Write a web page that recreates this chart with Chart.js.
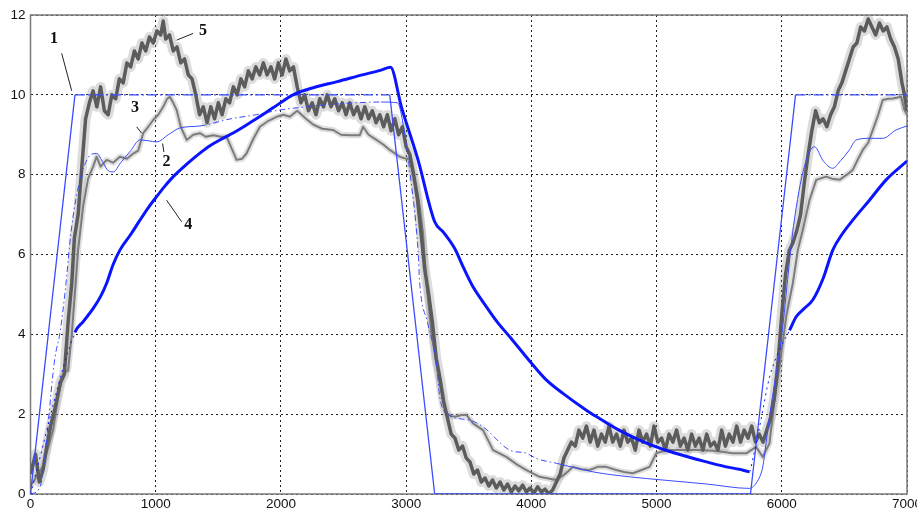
<!DOCTYPE html>
<html>
<head>
<meta charset="utf-8">
<script src="https://cdn.jsdelivr.net/npm/chart.js@4/dist/chart.umd.min.js"></script>
<style>
  html, body { margin: 0; padding: 0; background: #fff; }
  #wrap { width: 917px; height: 510px; }
</style>
</head>
<body>
<div id="wrap"><canvas id="c" width="917" height="510"></canvas></div>
<script>
// Curve 1: reference trapezoid
const c1x = [0, 355, 2869, 3228, 5750, 6110, 7000];
const c1y = [0, 10, 10, 0, 0, 10, 10];

// Curve 2: model response (thin blue)
const c2x = [0, 76, 196, 235, 275, 329, 395, 440, 480, 528,
             580, 620, 661, 720, 800, 874, 940, 1007, 1100, 1193,
             1353, 1600, 1800, 1992, 2200, 2400, 2600, 2800, 2930, 2990,
             3029, 3095, 3108, 3172, 3242, 3268, 3330, 3507, 3611, 3827,
             3960, 4040, 4199, 4500, 4785, 5050, 5400, 5742, 5795, 5835,
             5848, 5900, 6000, 6093, 6180, 6261, 6330, 6407, 6470, 6540,
             6594, 6700, 6806, 6913, 7000];
const c2y = [0, 0.18, 3.43, 4.03, 5.03, 6.70, 7.87, 8.3, 8.5, 8.53,
             8.3, 8.1, 8.07, 8.3, 8.6, 8.87, 8.85, 8.82, 9.0, 9.17,
             9.22, 9.4, 9.5, 9.62, 9.7, 9.76, 9.8, 9.82, 9.8, 9.0,
             8.1, 6.1, 5.3, 4.28, 3.28, 2.44, 2.0, 1.85, 1.69, 1.10,
             1.02, 0.89, 0.77, 0.55, 0.43, 0.35, 0.25, 0.14, 0.27, 0.52,
             0.68, 1.9, 4.0, 6.7, 8.2, 8.70, 8.35, 8.16, 8.35, 8.62,
             8.87, 8.91, 8.91, 9.12, 9.22];

// Curve 3: measured response (light grey)
const c3x = [0, 100, 180, 230, 260, 300, 330, 380, 420, 460,
             500, 528, 560, 608, 660, 714, 770, 820, 860, 900,
             940, 980, 1020, 1060, 1090, 1113, 1140, 1167, 1200, 1247,
             1300, 1353, 1400, 1459, 1520, 1566, 1600, 1646, 1690, 1725,
             1780, 1832, 1900, 1965, 2020, 2071, 2130, 2200, 2260, 2330,
             2415, 2480, 2550, 2630, 2656, 2700, 2763, 2820, 2869, 2949,
             3029, 3082, 3109, 3135, 3162, 3202, 3268, 3322, 3360, 3401,
             3440, 3481, 3534, 3614, 3694, 3800, 3880, 3960, 4066, 4199,
             4270, 4332, 4400, 4465, 4530, 4598, 4678, 4740, 4811, 4880,
             4944, 4998, 5077, 5200, 5343, 5480, 5609, 5716, 5795, 5848,
             5902, 5942, 5982, 6035, 6088, 6128, 6168, 6221, 6275, 6354,
             6400, 6461, 6520, 6567, 6610, 6647, 6690, 6727, 6770, 6806,
             6850, 6886, 6953, 6980, 7000];
const c3y = [0.2, 0.7, 1.6, 2.6, 3.0, 3.1, 4.0, 6.1, 7.2, 7.9,
             8.2, 8.45, 8.2, 8.37, 8.3, 8.45, 8.4, 8.53, 8.6, 9.04,
             9.2, 9.37, 9.5, 9.7, 9.9, 9.95, 9.8, 9.62, 9.2, 8.87,
             9.0, 9.04, 8.95, 8.99, 8.95, 8.95, 8.7, 8.37, 8.4, 8.53,
             8.9, 9.2, 9.35, 9.45, 9.5, 9.45, 9.6, 9.4, 9.25, 9.15,
             9.12, 9.0, 8.99, 8.99, 9.2, 9.0, 8.87, 8.75, 8.62, 8.45,
             8.37, 7.70, 7.20, 6.53, 5.28, 4.02, 2.77, 2.02, 1.95, 1.94,
             1.98, 1.98, 1.77, 1.6, 1.1, 0.93, 0.75, 0.6, 0.43, 0.35,
             0.5, 0.68, 0.62, 0.6, 0.68, 0.68, 0.6, 0.55, 0.52, 0.6,
             0.68, 1.02, 1.1, 1.1, 1.1, 1.08, 1.02, 1.02, 1.18, 0.93,
             1.27, 2.36, 3.19, 4.44, 5.28, 6.11, 6.61, 7.36, 7.87, 7.95,
             7.9, 7.87, 8.0, 8.12, 8.4, 8.62, 8.8, 9.12, 9.5, 9.87,
             9.9, 9.91, 9.95, 9.62, 9.5];

// Curve 4: thick blue estimate
const c4x = [0, 355, 421, 501, 560, 608, 660, 714, 800, 874,
             940, 1007, 1070, 1140, 1250, 1353, 1430, 1512, 1650, 1778,
             1940, 2097, 2270, 2450, 2650, 2800, 2875, 2962, 3095, 3228,
             3300, 3388, 3461, 3534, 3641, 3730, 3827, 4013, 4119, 4252,
             4439, 4519, 4700, 4900, 5100, 5343, 5556, 5662, 5742, 5770,
             5830, 5900, 5980, 6062, 6115, 6180, 6247, 6330, 6407, 6480,
             6567, 6700, 6833, 6993, 7000];
const c4y = [0, 4.05, 4.32, 4.65, 4.95, 5.28, 5.75, 6.11, 6.5, 6.86,
             7.17, 7.45, 7.7, 7.95, 8.27, 8.54, 8.72, 8.87, 9.1, 9.35,
             9.68, 10.0, 10.19, 10.33, 10.5, 10.62, 10.69, 9.70, 8.37, 6.82,
             6.55, 6.15, 5.65, 5.19, 4.69, 4.3, 3.94, 3.23, 2.86, 2.52,
             2.10, 1.94, 1.6, 1.3, 1.07, 0.85, 0.68, 0.62, 0.56, 0.9,
             1.8, 2.9, 3.6, 4.1, 4.44, 4.65, 4.86, 5.4, 6.11, 6.5,
             6.86, 7.36, 7.87, 8.32, 8.34];

// Curve 5: noisy measured signal (dark grey)
const c5x = [0, 40, 70, 100, 130, 160, 200, 240, 270, 300,
             330, 350, 380, 410, 440, 470, 500, 530, 560, 590,
             620, 650, 680, 710, 740, 770, 800, 830, 860, 890,
             920, 950, 980, 1010, 1040, 1060, 1080, 1110, 1140, 1170,
             1200, 1230, 1260, 1290, 1320, 1350, 1380, 1410, 1440, 1470,
             1500, 1530, 1560, 1590, 1620, 1650, 1680, 1710, 1740, 1770,
             1800, 1830, 1860, 1890, 1920, 1950, 1980, 2010, 2040, 2070,
             2100, 2130, 2160, 2190, 2220, 2250, 2280, 2310, 2340, 2370,
             2400, 2430, 2460, 2490, 2520, 2550, 2580, 2610, 2640, 2670,
             2700, 2730, 2760, 2790, 2820, 2850, 2880, 2910, 2940, 2970,
             3000, 3030, 3060, 3090, 3120, 3150, 3180, 3210, 3240, 3270,
             3300, 3330, 3360, 3390, 3420, 3450, 3480, 3510, 3540, 3570,
             3600, 3630, 3660, 3690, 3720, 3750, 3780, 3810, 3840, 3870,
             3900, 3930, 3960, 3990, 4020, 4050, 4080, 4110, 4140, 4170,
             4200, 4230, 4260, 4290, 4320, 4350, 4380, 4410, 4440, 4470,
             4500, 4530, 4560, 4590, 4620, 4650, 4680, 4710, 4740, 4770,
             4800, 4830, 4860, 4890, 4920, 4950, 4980, 5010, 5040, 5070,
             5100, 5130, 5160, 5190, 5220, 5250, 5280, 5310, 5340, 5370,
             5400, 5430, 5460, 5490, 5520, 5550, 5580, 5610, 5640, 5670,
             5700, 5730, 5760, 5790, 5820, 5850, 5880, 5910, 5940, 5970,
             6000, 6030, 6060, 6090, 6120, 6150, 6180, 6210, 6240, 6270,
             6300, 6330, 6360, 6390, 6420, 6450, 6480, 6510, 6540, 6570,
             6600, 6630, 6660, 6690, 6720, 6750, 6780, 6810, 6840, 6870,
             6900, 6930, 6960, 6980, 7000];
const c5y = [0.5, 1.0, 0.3, 0.6, 1.2, 1.7, 2.2, 2.8, 3.0, 4.3,
             5.3, 6.4, 7.0, 8.2, 9.4, 9.8, 10.1, 9.7, 10.2, 9.6,
             9.5, 10.0, 9.9, 10.4, 10.3, 10.8, 10.7, 11.1, 10.9, 11.3,
             11.1, 11.45, 11.3, 11.6, 11.5, 11.85, 11.4, 11.5, 11.1, 11.2,
             10.8, 10.9, 10.5, 10.4, 10.0, 9.5, 9.7, 9.3, 9.7, 9.4,
             9.8, 9.5, 9.9, 9.8, 10.2, 10.0, 10.4, 10.2, 10.6, 10.4,
             10.7, 10.5, 10.8, 10.5, 10.7, 10.4, 10.8, 10.5, 10.9, 10.6,
             10.7, 10.2, 9.8, 10.0, 9.6, 9.8, 9.5, 9.9, 9.7, 10.0,
             9.7, 9.9, 9.6, 9.8, 9.5, 9.8, 9.5, 9.7, 9.4, 9.7,
             9.4, 9.6, 9.3, 9.5, 9.2, 9.5, 9.1, 9.4, 9.0, 9.2,
             8.7, 8.5, 8.0, 7.4, 6.5, 5.6, 5.0, 4.3, 3.4, 2.9,
             2.3, 1.9, 1.5, 1.4, 1.1, 1.2, 0.9, 0.8, 0.5, 0.6,
             0.3, 0.4, 0.2, 0.35, 0.15, 0.3, 0.1, 0.25, 0.05, 0.2,
             0.08, 0.22, 0.05, 0.15, 0.02, 0.18, 0.05, 0.12, 0.0, 0.1,
             0.3, 0.5, 0.9, 1.1, 1.3, 1.2, 1.6, 1.4, 1.7, 1.3,
             1.6, 1.2, 1.5, 1.3, 1.7, 1.3, 1.5, 1.2, 1.6, 1.3,
             1.4, 1.1, 1.6, 1.3, 1.5, 1.2, 1.7, 1.3, 1.4, 1.1,
             1.5, 1.3, 1.6, 1.2, 1.4, 1.1, 1.5, 1.2, 1.4, 1.1,
             1.5, 1.2, 1.3, 1.1, 1.6, 1.2, 1.5, 1.3, 1.7, 1.3,
             1.6, 1.4, 1.7, 1.3, 1.5, 1.3, 1.6, 1.9, 2.4, 3.3,
             4.5, 5.5, 6.1, 6.3, 6.6, 7.0, 7.8, 8.5, 9.1, 9.6,
             9.3, 9.4, 9.2, 9.5, 9.7, 10.1, 10.3, 10.6, 10.9, 11.2,
             11.3, 11.7, 11.6, 11.9, 11.7, 11.5, 11.8, 11.6, 11.7, 11.4,
             11.2, 10.9, 10.3, 10.0, 9.6];

// Axis ticks
const xTicks = [0, 1000, 2000, 3000, 4000, 5000, 6000, 7000];
const yTicks = [0, 2, 4, 6, 8, 10, 12];

// Curve number labels and their leader lines (data units)
const curveLabels = ['1', '2', '3', '4', '5'];
const labelSpots = [
  { tx: 188, ty: 11.40, x0: 249, y0: 11.04, x1: 329, y1: 10.10 },
  { tx: 1087, ty: 8.32, x0: 1055, y0: 8.78, x1: 1065, y1: 8.57 },
  { tx: 834, ty: 9.67, x0: 848, y0: 9.2, x1: 887, y1: 9.04 },
  { tx: 1259, ty: 6.74, x0: 1087, y0: 7.36, x1: 1207, y1: 6.82 },
  { tx: 1377, ty: 11.6, x0: 1167, y0: 11.37, x1: 1299, y1: 11.54 }
];

const pts = (xs, ys) => xs.map((x, i) => ({ x: x, y: ys[i] }));

const framePlugin = {
  id: 'frame',
  beforeDatasetsDraw(chart) {
    const a = chart.chartArea, ctx = chart.ctx;
    ctx.save();
    ctx.strokeStyle = '#7a7a7a';
    ctx.lineWidth = 1.5;
    ctx.strokeRect(a.left, a.top, a.right - a.left, a.bottom - a.top);
    ctx.restore();
  }
};

const labelPlugin = {
  id: 'curveLabels',
  afterDatasetsDraw(chart) {
    const sx = chart.scales.x, sy = chart.scales.y, ctx = chart.ctx;
    ctx.save();
    ctx.strokeStyle = '#222';
    ctx.lineWidth = 1;
    ctx.fillStyle = '#111';
    ctx.font = 'bold 16px "Liberation Serif", "Times New Roman", serif';
    ctx.textAlign = 'center';
    ctx.textBaseline = 'middle';
    labelSpots.forEach((s, i) => {
      ctx.beginPath();
      ctx.moveTo(sx.getPixelForValue(s.x0), sy.getPixelForValue(s.y0));
      ctx.lineTo(sx.getPixelForValue(s.x1), sy.getPixelForValue(s.y1));
      ctx.stroke();
      ctx.fillText(curveLabels[i], sx.getPixelForValue(s.tx), sy.getPixelForValue(s.ty));
    });
    ctx.restore();
  }
};

const thinBlue = '#3a4cff';
const thickBlue = '#0a14ff';
const tickFont = { family: '"Liberation Sans", Arial, sans-serif', size: 13.5 };

// dash-dot styling for the flat top of curve 1 and the transient parts of curve 2
const dashDot = [10, 3, 2, 3];
const c1Dash = ctx => (ctx.p0.parsed.y === 10 && ctx.p1.parsed.y === 10) ? dashDot : [];
const c2Dash = ctx => (ctx.p1.parsed.x <= 528 || (ctx.p0.parsed.x >= 1353 && ctx.p1.parsed.x <= 2800) ||
                       (ctx.p0.parsed.x >= 2990 && ctx.p1.parsed.x <= 4199)) ? [6, 3, 1.5, 3] : [];
const c4Thin = ctx => ctx.p0.parsed.x === 0 || (ctx.p0.parsed.x >= 5742 && ctx.p1.parsed.x <= 6062);

new Chart(document.getElementById('c'), {
  type: 'line',
  data: {
    datasets: [
      { data: pts(c4x, c4y), borderColor: thickBlue, borderWidth: 3, order: 0,
        cubicInterpolationMode: 'monotone',
        segment: {
          borderWidth: ctx => c4Thin(ctx) ? 1 : 3,
          borderDash: ctx => c4Thin(ctx) ? [2, 4] : []
        } },
      { data: pts(c2x, c2y), borderColor: thinBlue, borderWidth: 1, order: 1,
        cubicInterpolationMode: 'monotone', segment: { borderDash: c2Dash } },
      { data: pts(c1x, c1y), borderColor: thinBlue, borderWidth: 1.3, order: 2, tension: 0,
        segment: { borderDash: c1Dash } },
      { data: pts(c5x, c5y), borderColor: '#5c5c5c', borderWidth: 3.5, order: 3, tension: 0 },
      { data: pts(c3x, c3y), borderColor: '#7c7c7c', borderWidth: 2, order: 4, tension: 0 },
      { data: pts(c3x, c3y), borderColor: 'rgba(150,150,150,0.3)', borderWidth: 6, order: 5, tension: 0 },
      { data: pts(c5x, c5y), borderColor: 'rgba(140,140,140,0.3)', borderWidth: 10, order: 6, tension: 0 }
    ]
  },
  options: {
    responsive: false,
    animation: false,
    devicePixelRatio: 1,
    layout: { padding: { top: 15, right: 10, left: 0, bottom: 0 } },
    elements: { point: { radius: 0 }, line: { borderJoinStyle: 'round' } },
    plugins: { legend: { display: false }, tooltip: { enabled: false } },
    scales: {
      x: {
        type: 'linear', min: 0, max: 7000,
        afterBuildTicks: s => { s.ticks = xTicks.map(v => ({ value: v })); },
        ticks: { color: '#111', padding: 2, maxRotation: 0, autoSkip: false,
                 callback: v => String(v), font: tickFont },
        grid: { color: '#222', lineWidth: 1, drawTicks: false },
        border: { display: false, dash: [2, 3] },
        afterFit: s => { s.height = 16; s.paddingLeft = 0; s.paddingRight = 0; }
      },
      y: {
        type: 'linear', min: 0, max: 12,
        afterBuildTicks: s => { s.ticks = yTicks.map(v => ({ value: v })); },
        ticks: { color: '#111', padding: 5, callback: v => String(v), font: tickFont },
        grid: { color: '#222', lineWidth: 1, drawTicks: false },
        border: { display: false, dash: [2, 3] },
        afterFit: s => { s.width = 30.5; s.paddingTop = 0; s.paddingBottom = 0; }
      }
    }
  },
  plugins: [framePlugin, labelPlugin]
});
</script>
</body>
</html>
